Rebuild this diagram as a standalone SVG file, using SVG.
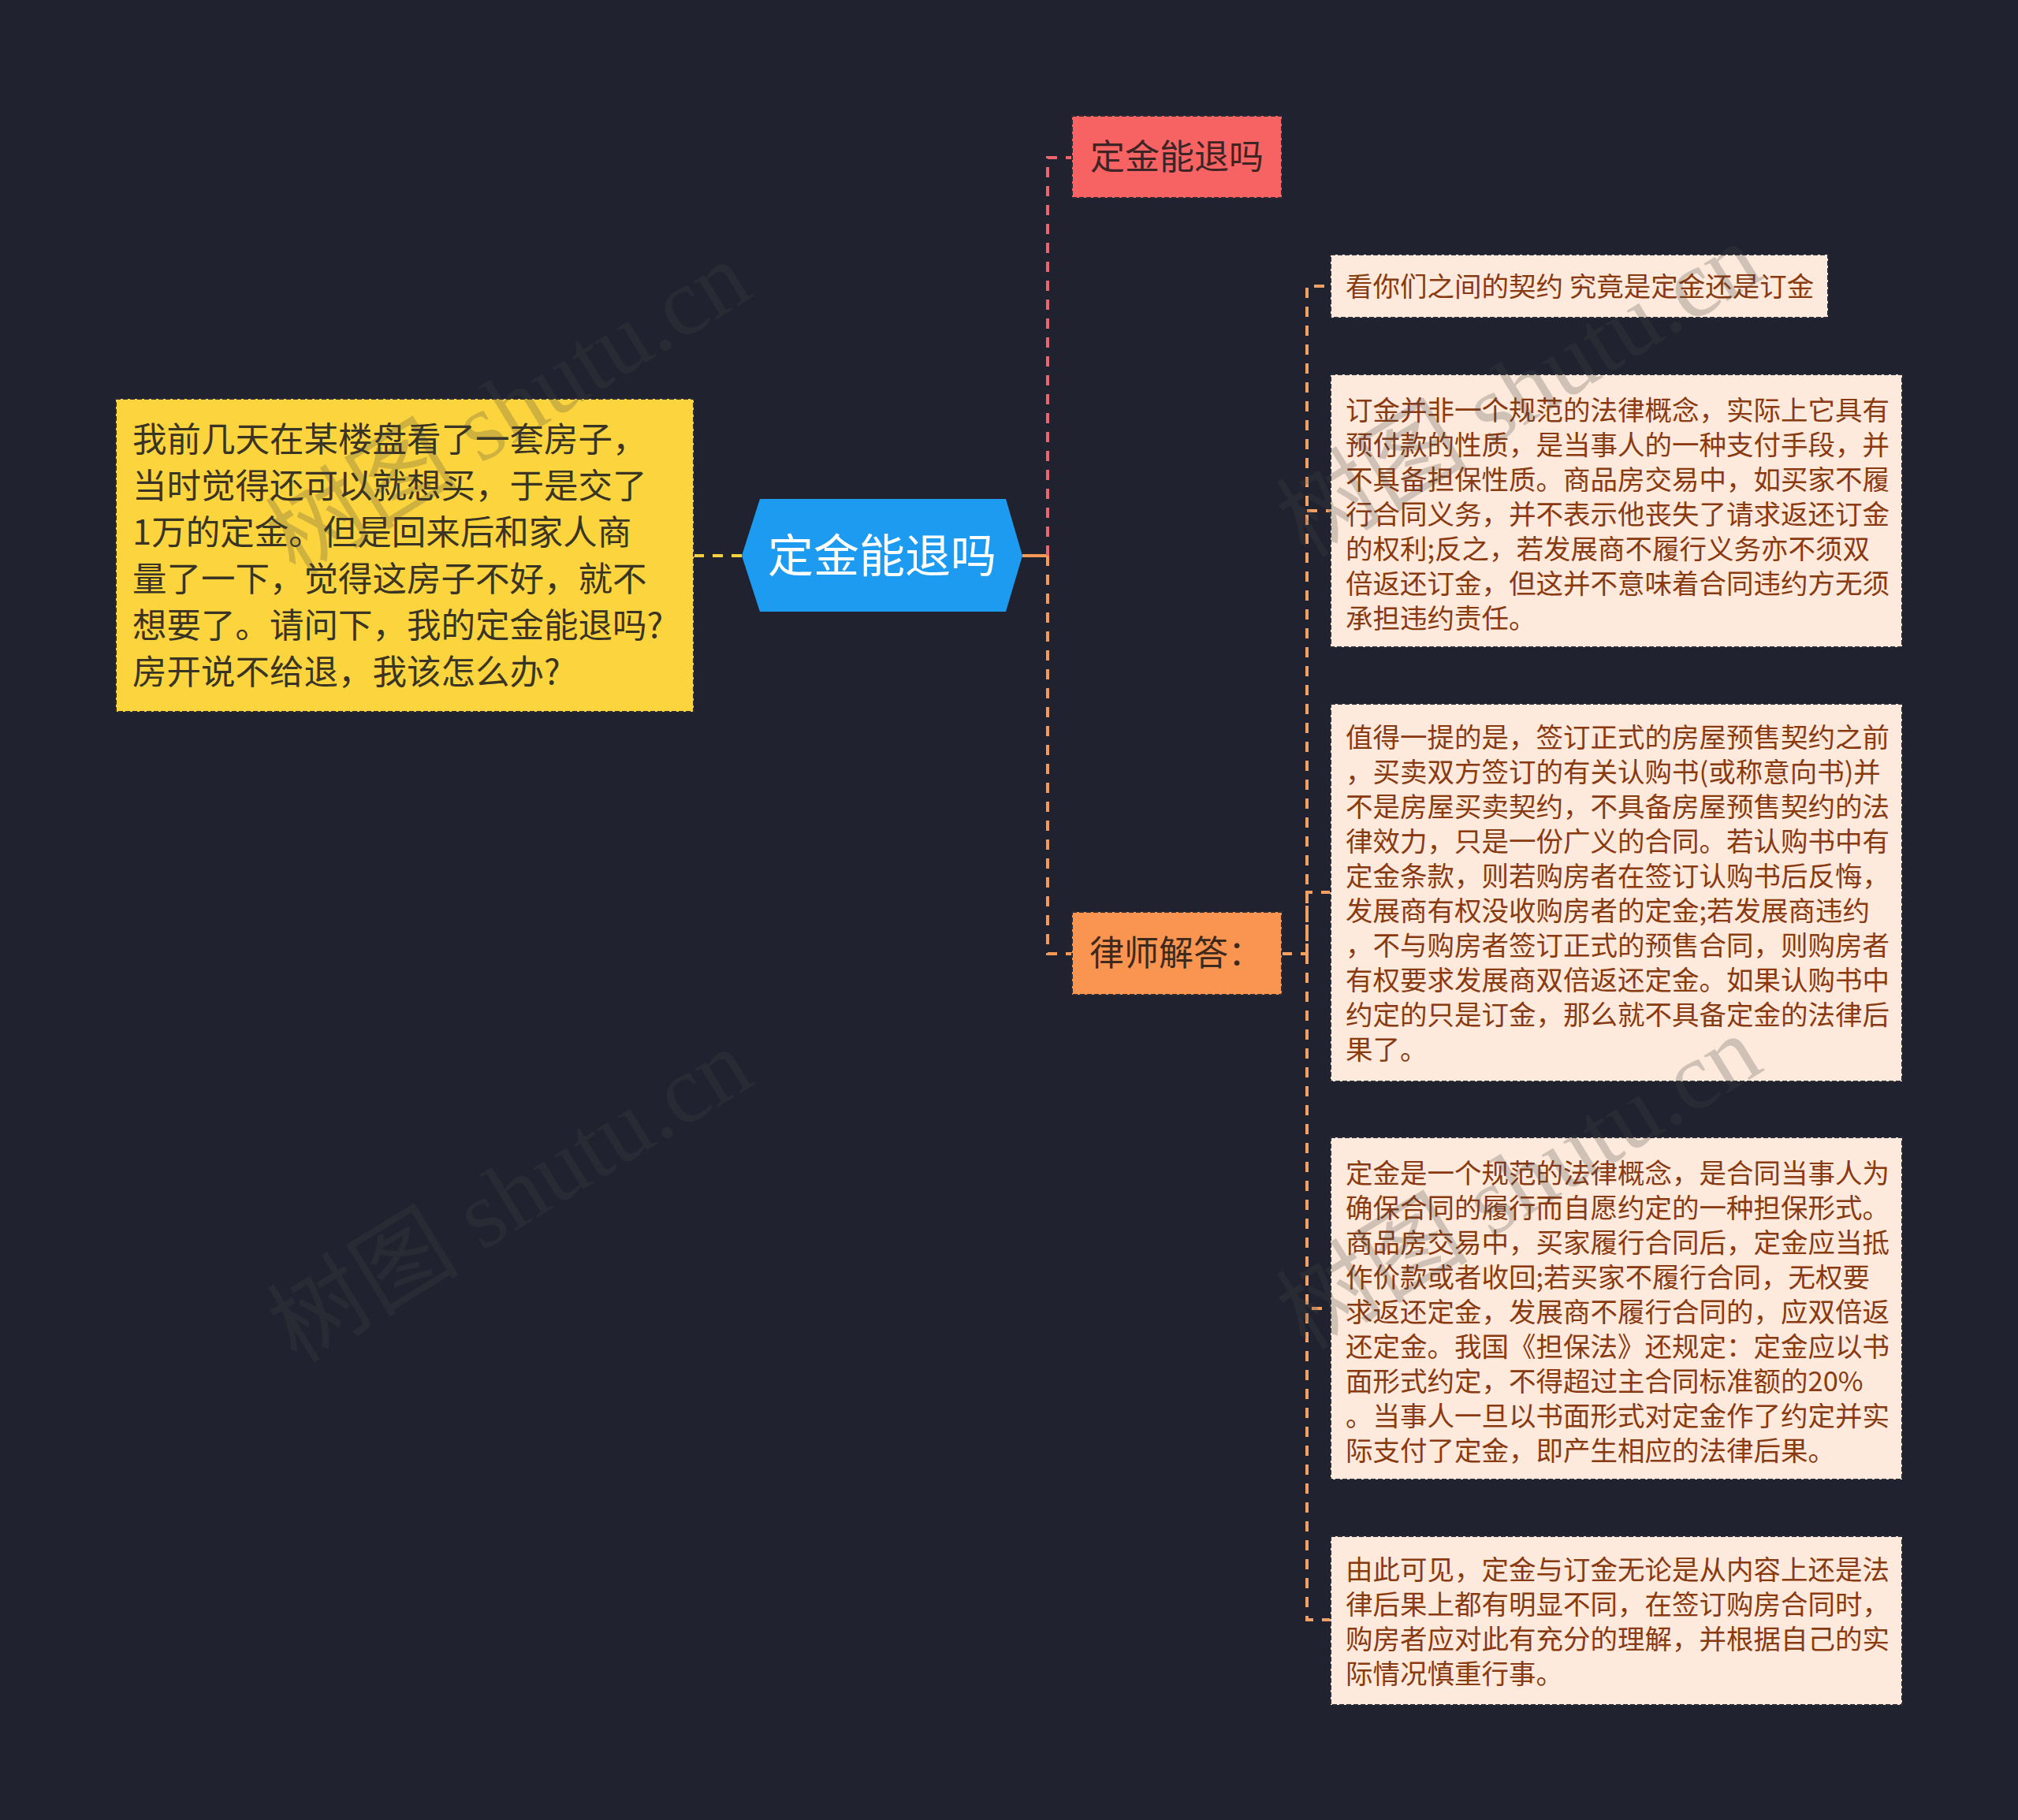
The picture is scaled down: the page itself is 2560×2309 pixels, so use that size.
<svg xmlns="http://www.w3.org/2000/svg" width="2560" height="2309" viewBox="0 0 2560 2309">
<style>
.t{font-family:"Noto Sans CJK SC","Noto Sans",sans-serif;dominant-baseline:central;transform:translate(0px,-4px)}
.box{stroke:#2a2b33;stroke-width:2;stroke-dasharray:6 3}
.peach{fill:#fdeadd}
.pt{font-size:34.5px;fill:#8a3a10}
.yt{font-size:43.5px;fill:#3a3424}
.ln{fill:none;stroke-width:4;stroke-dasharray:13 11}
.wm{font-family:"Liberation Serif","Noto Sans CJK SC",serif;font-size:122px;fill:#444;opacity:0.24}
</style>
<rect width="2560" height="2309" fill="#20232f"/>
<g id="connectors">
<path d="M880,705 H941" class="ln" stroke="#f5d142" stroke-dasharray="8 12"/>
<path d="M1297,705 H1329" fill="none" stroke="#f79a55" stroke-width="4"/>
<path d="M1329,705 V200 H1360" class="ln" stroke="#ec646c"/>
<path d="M1329,705 V1210 H1360" class="ln" stroke="#f79a55"/>
<path d="M1626,1210 H1658 V363 H1688" class="ln" stroke="#f3a064"/>
<path d="M1658,648 H1688" class="ln" stroke="#f3a064"/>
<path d="M1658,1210 V1132 H1688" class="ln" stroke="#f3a064"/>
<path d="M1658,1210 V1660 H1688" class="ln" stroke="#f3a064"/>
<path d="M1658,1210 V2055 H1688" class="ln" stroke="#f3a064"/>
</g>
<g id="question">
<rect x="147" y="506" width="733" height="397" fill="#fcd43e" class="box"/>
<text class="t yt" x="168">
<tspan x="168" y="558">我前几天在某楼盘看了一套房子，</tspan>
<tspan x="168" y="617">当时觉得还可以就想买，于是交了</tspan>
<tspan x="168" y="676">1万的定金。但是回来后和家人商</tspan>
<tspan x="168" y="735">量了一下，觉得这房子不好，就不</tspan>
<tspan x="168" y="794">想要了。请问下，我的定金能退吗?</tspan>
<tspan x="168" y="853">房开说不给退，我该怎么办?</tspan>
</text>
</g>
<g id="root">
<polygon points="941,705 964,633 1276,633 1297,705 1276,776 964,776" fill="#1d9bf0"/>
<text class="t" x="1119" y="705" text-anchor="middle" font-size="58" fill="#ffffff">定金能退吗</text>
</g>
<g id="title-node">
<rect x="1360" y="147" width="266" height="104" fill="#f76363" class="box"/>
<text class="t" x="1493" y="200" text-anchor="middle" font-size="44" fill="#3e2424">定金能退吗</text>
</g>
<g id="lawyer-node">
<rect x="1360" y="1157" width="266" height="105" fill="#fa9451" class="box"/>
<text class="t" x="1382" y="1210" font-size="44" fill="#3e2a1c">律师解答：</text>
</g>
<g id="answer1">
<rect x="1688" y="323" width="631" height="80" class="peach box"/>
<text class="t pt" x="1707" y="365">看你们之间的契约 究竟是定金还是订金</text>
</g>
<g id="answer2">
<rect x="1688" y="475" width="725" height="346" class="peach box"/>
<text class="t pt">
<tspan x="1707" y="522">订金并非一个规范的法律概念，实际上它具有</tspan>
<tspan x="1707" y="566">预付款的性质，是当事人的一种支付手段，并</tspan>
<tspan x="1707" y="610">不具备担保性质。商品房交易中，如买家不履</tspan>
<tspan x="1707" y="654">行合同义务，并不表示他丧失了请求返还订金</tspan>
<tspan x="1707" y="698">的权利;反之，若发展商不履行义务亦不须双</tspan>
<tspan x="1707" y="742">倍返还订金，但这并不意味着合同违约方无须</tspan>
<tspan x="1707" y="786">承担违约责任。</tspan>
</text>
</g>
<g id="answer3">
<rect x="1688" y="893" width="725" height="479" class="peach box"/>
<text class="t pt">
<tspan x="1707" y="937">值得一提的是，签订正式的房屋预售契约之前</tspan>
<tspan x="1707" y="981">，买卖双方签订的有关认购书(或称意向书)并</tspan>
<tspan x="1707" y="1025">不是房屋买卖契约，不具备房屋预售契约的法</tspan>
<tspan x="1707" y="1069">律效力，只是一份广义的合同。若认购书中有</tspan>
<tspan x="1707" y="1113">定金条款，则若购房者在签订认购书后反悔，</tspan>
<tspan x="1707" y="1157">发展商有权没收购房者的定金;若发展商违约</tspan>
<tspan x="1707" y="1201">，不与购房者签订正式的预售合同，则购房者</tspan>
<tspan x="1707" y="1245">有权要求发展商双倍返还定金。如果认购书中</tspan>
<tspan x="1707" y="1289">约定的只是订金，那么就不具备定金的法律后</tspan>
<tspan x="1707" y="1333">果了。</tspan>
</text>
</g>
<g id="answer4">
<rect x="1688" y="1443" width="725" height="434" class="peach box"/>
<text class="t pt">
<tspan x="1707" y="1490">定金是一个规范的法律概念，是合同当事人为</tspan>
<tspan x="1707" y="1534">确保合同的履行而自愿约定的一种担保形式。</tspan>
<tspan x="1707" y="1578">商品房交易中，买家履行合同后，定金应当抵</tspan>
<tspan x="1707" y="1622">作价款或者收回;若买家不履行合同，无权要</tspan>
<tspan x="1707" y="1666">求返还定金，发展商不履行合同的，应双倍返</tspan>
<tspan x="1707" y="1710">还定金。我国《担保法》还规定：定金应以书</tspan>
<tspan x="1707" y="1754">面形式约定，不得超过主合同标准额的20%</tspan>
<tspan x="1707" y="1798">。当事人一旦以书面形式对定金作了约定并实</tspan>
<tspan x="1707" y="1842">际支付了定金，即产生相应的法律后果。</tspan>
</text>
</g>
<g id="answer5">
<rect x="1688" y="1949" width="725" height="214" class="peach box"/>
<text class="t pt">
<tspan x="1707" y="1993">由此可见，定金与订金无论是从内容上还是法</tspan>
<tspan x="1707" y="2037">律后果上都有明显不同，在签订购房合同时，</tspan>
<tspan x="1707" y="2081">购房者应对此有充分的理解，并根据自己的实</tspan>
<tspan x="1707" y="2125">际情况慎重行事。</tspan>
</text>
</g>
<g id="watermarks">
<text class="wm" text-anchor="middle" transform="translate(645,518) rotate(-31.5)" dominant-baseline="central">树图 shutu.cn</text>
<text class="wm" text-anchor="middle" transform="translate(647,1517) rotate(-31.5)" dominant-baseline="central">树图 shutu.cn</text>
<text class="wm" text-anchor="middle" transform="translate(1927,495) rotate(-31.5)" dominant-baseline="central">树图 shutu.cn</text>
<text class="wm" text-anchor="middle" transform="translate(1927,1500) rotate(-31.5)" dominant-baseline="central">树图 shutu.cn</text>
</g>
</svg>
